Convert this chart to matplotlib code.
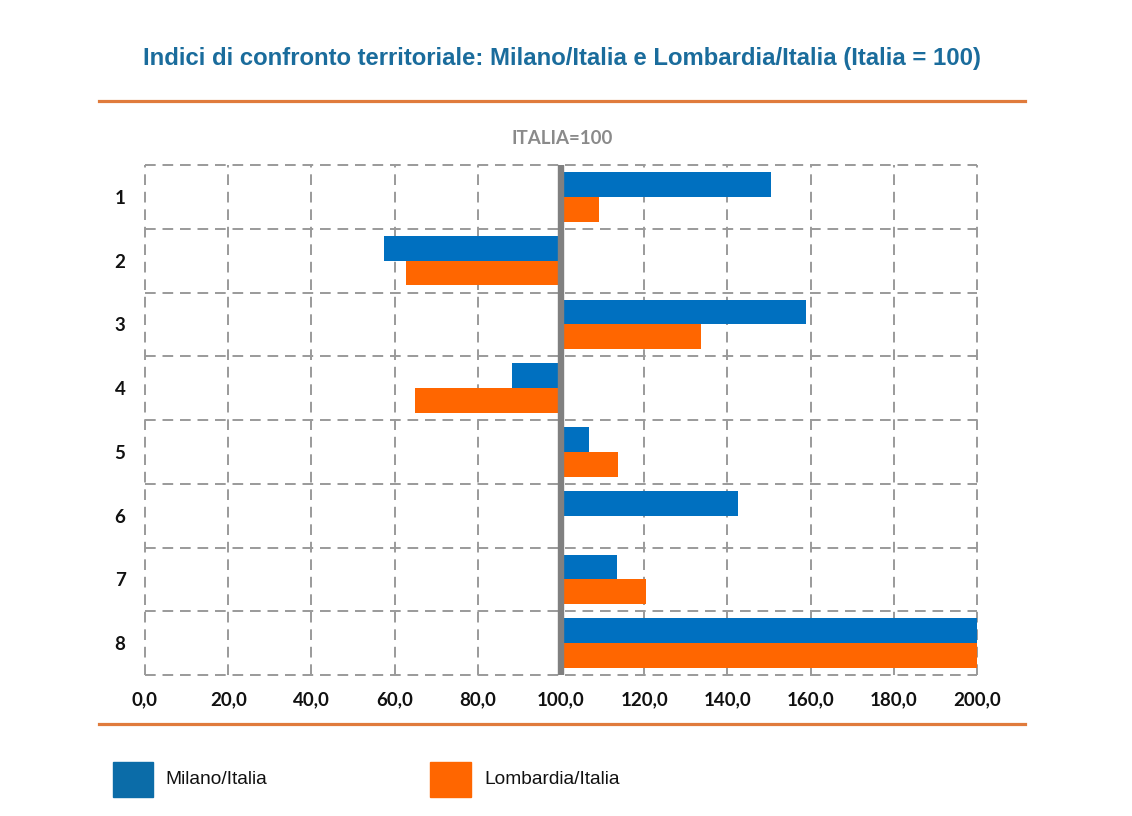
import matplotlib
matplotlib.use('Agg')
import matplotlib.pyplot as plt
from matplotlib.patches import Rectangle
from matplotlib.lines import Line2D

# ---- data ----
categories = ['1', '2', '3', '4', '5', '6', '7', '8']
milano = [150.5, 57.5, 158.9, 88.2, 106.7, 142.5, 113.5, 200.0]
lombardia = [109.1, 62.7, 133.7, 64.9, 113.7, 100.0, 120.4, 200.0]
base = 100.0
xticks = [0, 20, 40, 60, 80, 100, 120, 140, 160, 180, 200]

BLUE = '#0070C0'
ORANGE = '#FF6600'
TITLE_C = '#1A6C9C'
RULE_C = '#E07B3C'
GRID_C = '#9A9A9A'

narrow = ['Liberation Sans Narrow', 'Liberation Sans', 'DejaVu Sans']
tickfont = ['Lato', 'DejaVu Sans']

W, H = 1132, 816
fig = plt.figure(figsize=(W / 100, H / 100), dpi=100)

def fx(px):
    return px / W

def fy(py):
    return 1 - py / H

# axes area in pixels: x 145..977, y 165..675
ax = fig.add_axes([fx(145), fy(675), fx(977) - fx(145), fy(165) - fy(675)])
ax.set_xlim(0, 200)
ax.set_ylim(len(categories) + 0.5, 0.5)

ys = list(range(1, len(categories) + 1))
bh = 0.39
ax.barh([y - bh / 2 for y in ys], [v - base for v in milano], left=base,
        height=bh, color=BLUE, zorder=3)
ax.barh([y + bh / 2 for y in ys], [v - base for v in lombardia], left=base,
        height=bh, color=ORANGE, zorder=3)

# dashed grid incl. frame
for x in xticks:
    ax.axvline(x, color=GRID_C, lw=1.4, ls=(0, (5.5, 3.5)), zorder=1, clip_on=False)
for k in range(len(categories) + 1):
    ax.axhline(k + 0.5, color=GRID_C, lw=1.4, ls=(0, (5.5, 3.5)), zorder=1, clip_on=False)

# reference line at Italia = 100
ax.axvline(base, color='#808080', lw=4.6, zorder=4)

for s in ax.spines.values():
    s.set_visible(False)
ax.set_xticks(xticks)
ax.set_xticklabels([f'{x:.1f}'.replace('.', ',') for x in xticks])
ax.set_yticks(ys)
ax.set_yticklabels(categories)
ax.tick_params(length=0)
ax.tick_params(axis='x', pad=12)
ax.tick_params(axis='y', pad=14)
for lab in ax.get_xticklabels() + ax.get_yticklabels():
    lab.set_family(tickfont)
    lab.set_fontweight('bold')
    lab.set_fontsize(13.5)
    lab.set_color('#111111')

# title
fig.text(fx(562), fy(58), 'Indici di confronto territoriale: Milano/Italia e Lombardia/Italia (Italia = 100)',
         ha='center', va='center', fontsize=17.2, fontweight='bold', color=TITLE_C, family=narrow)
fig.text(fx(562), fy(139), 'ITALIA=100', ha='center', va='center', fontsize=13.5,
         fontweight='bold', color='#8A8A8A', family=tickfont)

# orange rules
for py in (101, 724):
    fig.add_artist(Line2D([fx(99), fx(1025)], [fy(py), fy(py)], color=RULE_C, lw=2.3))

# legend
fig.add_artist(Rectangle((fx(113), fy(797)), fx(40), fy(762) - fy(797), color='#0B6CA8',
                         transform=fig.transFigure))
fig.text(fx(165), fy(780), 'Milano/Italia', ha='left', va='center', fontsize=13.8,
         family=narrow, color='#111111')
fig.add_artist(Rectangle((fx(430), fy(797)), fx(41), fy(762) - fy(797), color=ORANGE,
                         transform=fig.transFigure))
fig.text(fx(484), fy(780), 'Lombardia/Italia', ha='left', va='center', fontsize=13.8,
         family=narrow, color='#111111')

fig.savefig('out.png', dpi=100, facecolor='white')
